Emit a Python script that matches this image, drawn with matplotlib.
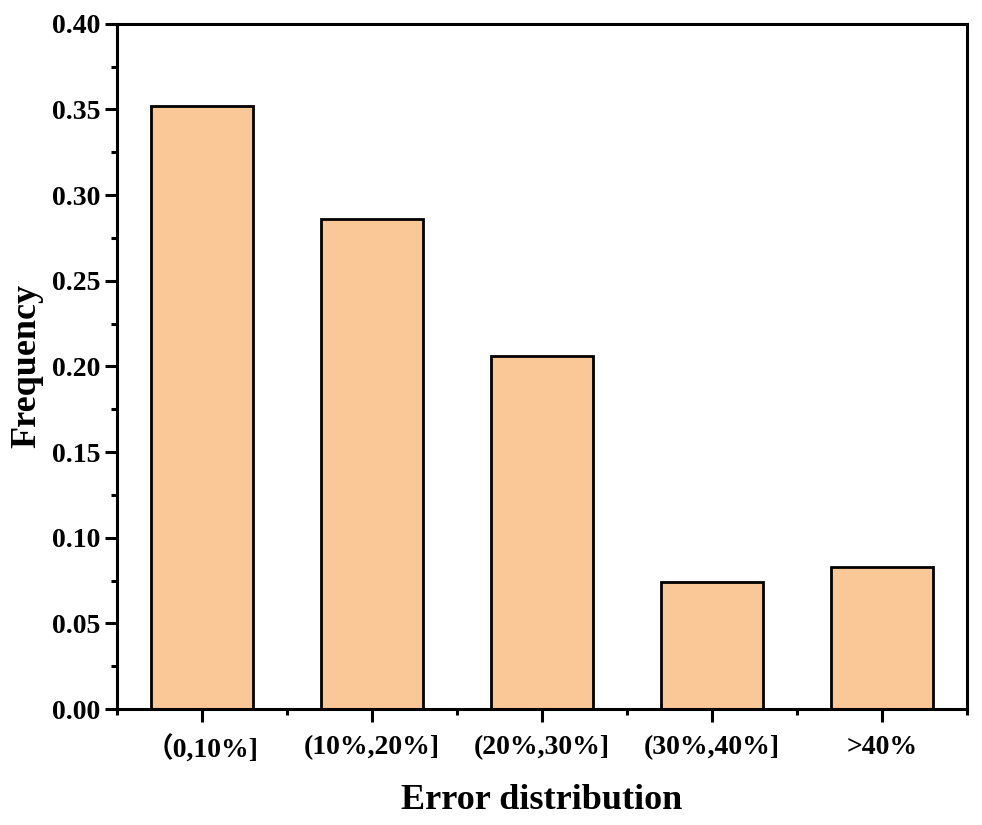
"""
Error distribution bar chart.
"""

import numpy as np
import matplotlib
matplotlib.use('Agg')
import matplotlib.pyplot as plt
from matplotlib.ticker import MultipleLocator

categories = ['\uff080,10%]', '(10%,20%]', '(20%,30%]', '(30%,40%]', '>40%']
frequency = [0.352, 0.286, 0.206, 0.074, 0.083]
y_ticks = [0.00, 0.05, 0.10, 0.15, 0.20, 0.25, 0.30, 0.35, 0.40]


def main():
    plt.rcParams['font.family'] = ['Liberation Serif', 'Noto Sans CJK SC']
    plt.rcParams['font.weight'] = 'bold'

    fig = plt.figure(figsize=(9.82, 8.25), dpi=100)
    ax = fig.add_axes([0.119, 0.1406, 0.866, 0.8305])

    x = np.arange(len(categories))
    ax.bar(x, frequency, width=0.6, color='#FAC796', edgecolor='black', linewidth=2.0)

    ax.set_xlim(-0.5, len(categories) - 0.5)
    ax.set_ylim(0, 0.40)
    ax.set_xticks(x)
    ax.set_xticklabels(categories)
    ax.xaxis.set_minor_locator(MultipleLocator(1, offset=0.5))
    ax.set_yticks(y_ticks)
    ax.set_yticklabels(['%.2f' % v for v in y_ticks])
    ax.yaxis.set_minor_locator(MultipleLocator(0.025))

    for s in ax.spines.values():
        s.set_linewidth(2.2)
    ax.tick_params(which='major', direction='out', length=9, width=2.2,
                   labelsize=20)
    ax.tick_params(which='minor', direction='out', length=4.5, width=2.2)
    ax.tick_params(axis='x', which='major', pad=10)
    ax.tick_params(axis='y', which='major', pad=3)

    ax.set_xlabel('Error distribution', fontsize=26, fontweight='bold', labelpad=15)
    ax.set_ylabel('Frequency', fontsize=26, fontweight='bold', labelpad=6)

    fig.savefig('out.png', dpi=100)


if __name__ == '__main__':
    main()
